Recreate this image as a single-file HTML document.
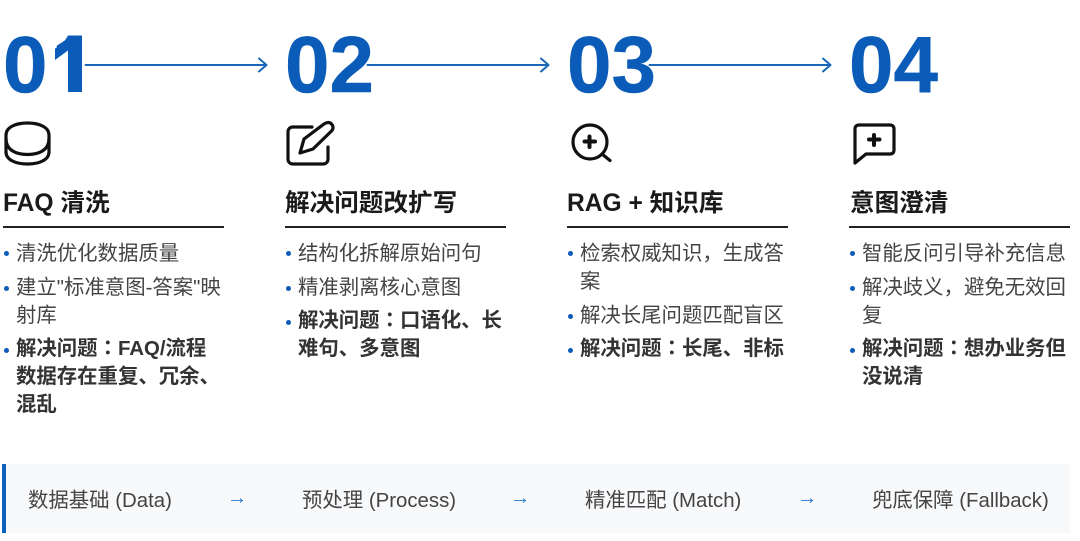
<!DOCTYPE html>
<html><head><meta charset="utf-8">
<style>
html,body{margin:0;padding:0;background:#fff}
body{width:1080px;height:541px;position:relative;overflow:hidden;font-family:"Liberation Sans","Noto Sans CJK SC",sans-serif}
.a{position:absolute;white-space:nowrap}
.n{font-size:80px;font-weight:700;color:#0b5cb8;line-height:80px;top:25px;-webkit-text-stroke:.5px #0b5cb8}
.t{font-size:24.6px;font-weight:700;color:#1a1a1a;line-height:34px;top:187px}
.r{position:absolute;top:226px;height:2px;width:221px;background:#222}
.l{font-size:20.4px;color:#444;line-height:28px}
.b{font-weight:700;color:#333}
.c{font-family:"Noto Sans CJK JP",sans-serif;line-height:0;vertical-align:baseline}
.d{position:absolute;width:5px;height:5px;border-radius:50%;background:#0b5cb8}
.f{font-size:20.4px;color:#444;line-height:28px;top:487px}
.ar{font-size:20.4px;color:#2a78cc;line-height:28px;top:484px}
svg{position:absolute;left:0;top:0}
</style></head><body>
<div class="a n" style="left:3px">0<span style="display:inline-block;position:relative;left:4px;clip-path:inset(0 0 25px 0)">1</span></div>
<div class="a n" style="left:285px">02</div>
<div class="a n" style="left:567px">03</div>
<div class="a n" style="left:849px">04</div>

<svg width="1080" height="541" fill="none">
<path d="M68 35.500H82V92H68V50.500L55 60V48.500C61 46 65 41 68 35.500Z" fill="#0b5cb8"/>
<g stroke="#1a66b8" stroke-width="2" stroke-linecap="round" stroke-linejoin="round">
<path d="M85.500 65H266M259 58.500L266.500 65L259 71.500"/>
<path d="M367.500 65H548M541 58.500L548.500 65L541 71.500"/>
<path d="M649.500 65H830M823 58.500L830.500 65L823 71.500"/>
</g>
<g stroke="#111" stroke-width="3.200" stroke-linecap="round" stroke-linejoin="round">
<path d="M6 135C6 127 16 123 27.500 123C39 123 49 127 49 135V152C49 160 39 164 27.500 164C16 164 6 160 6 152Z"/>
<path d="M6 139C6 150 16 154.500 27.500 154.500C39 154.500 49 150 49 139"/>
<path d="M312 127H293C290 127 288 129 288 132V159C288 162 290 164 293 164H323C326 164 328 162 328 159V147"/>
<path d="M300 153L304 139L324 124C327 122 330 122 331.500 124C333.500 126 333.500 129 331.500 131L313 149Z"/>
<circle cx="590" cy="142" r="17"/>
<path d="M602 154L610 160.500"/>
<path d="M589.500 136.500V147M584.500 141.500H595" stroke-width="4"/>
<path d="M855 163V129C855 126.500 856.500 125 859 125H890C892.500 125 894 126.500 894 129V150C894 152.500 892.500 154 890 154H866Z"/>
<path d="M874 135V145M869 139.500H879.500" stroke-width="4"/>
</g>
</svg>

<div class="a t" style="left:3px">FAQ 清洗</div>
<div class="a t" style="left:285px">解决问题改扩写</div>
<div class="a t" style="left:567px">RAG + 知识库</div>
<div class="a t" style="left:850px">意图澄清</div>
<div class="r" style="left:3px"></div>
<div class="r" style="left:285px"></div>
<div class="r" style="left:567px"></div>
<div class="r" style="left:849px"></div>

<i class="d" style="left:4px;top:251px"></i>
<div class="a l" style="left:16px;top:240px">清洗优化数据质量</div>
<i class="d" style="left:4px;top:286px"></i>
<div class="a l" style="left:16px;top:274px">建立"标准意图-答案"映<br>射库</div>
<i class="d" style="left:4px;top:348px"></i>
<div class="a l b" style="left:16px;top:335px">解决问题<span class="c">：</span>FAQ/流程<br>数据存在重复、冗余、<br>混乱</div>

<i class="d" style="left:286px;top:251px"></i>
<div class="a l" style="left:298px;top:240px">结构化拆解原始问句</div>
<i class="d" style="left:286px;top:286px"></i>
<div class="a l" style="left:298px;top:274px">精准剥离核心意图</div>
<i class="d" style="left:286px;top:320px"></i>
<div class="a l b" style="left:298px;top:307px">解决问题<span class="c">：</span>口语化、长<br>难句、多意图</div>

<i class="d" style="left:568px;top:251px"></i>
<div class="a l" style="left:580px;top:240px">检索权威知识，生成答<br>案</div>
<i class="d" style="left:568px;top:314px"></i>
<div class="a l" style="left:580px;top:302px">解决长尾问题匹配盲区</div>
<i class="d" style="left:568px;top:348px"></i>
<div class="a l b" style="left:580px;top:335px">解决问题<span class="c">：</span>长尾、非标</div>

<i class="d" style="left:850px;top:251px"></i>
<div class="a l" style="left:862px;top:240px">智能反问引导补充信息</div>
<i class="d" style="left:850px;top:286px"></i>
<div class="a l" style="left:862px;top:274px">解决歧义，避免无效回<br>复</div>
<i class="d" style="left:850px;top:348px"></i>
<div class="a l b" style="left:862px;top:335px">解决问题<span class="c">：</span>想办业务但<br>没说清</div>

<div style="position:absolute;left:2px;top:464px;width:1064px;height:69px;background:#f8f9fb;border-left:4px solid #0d62bb"></div>
<div class="a f" style="left:28px">数据基础 (Data)</div>
<div class="a ar" style="left:227px">→</div>
<div class="a f" style="left:302px">预处理 (Process)</div>
<div class="a ar" style="left:510px">→</div>
<div class="a f" style="left:585px">精准匹配 (Match)</div>
<div class="a ar" style="left:797px">→</div>
<div class="a f" style="left:872px">兜底保障 (Fallback)</div>
</body></html>
